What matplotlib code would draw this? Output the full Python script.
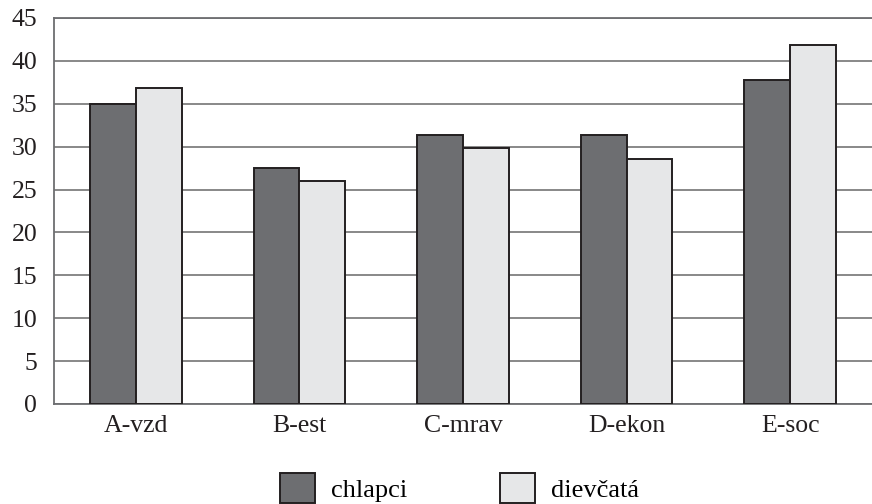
import numpy as np
import matplotlib
matplotlib.use("Agg")
import matplotlib.pyplot as plt

categories = ["A-vzd", "B-est", "C-mrav", "D-ekon", "E-soc"]
chlapci = [35.0, 27.5, 31.4, 31.4, 37.8]
dievcata = [36.8, 26.0, 29.9, 28.6, 41.8]
yticks = [0, 5, 10, 15, 20, 25, 30, 35, 40, 45]

plt.rcParams["font.family"] = ["Liberation Serif", "DejaVu Serif"]

fig = plt.figure(figsize=(8.72, 5.04), dpi=100)
ax = fig.add_axes([54 / 872, 100 / 504, 818 / 872, 386 / 504])

x = np.arange(len(categories))
w = 0.28
ax.bar(x - w / 2, chlapci, w, color="#6d6e71", edgecolor="#231f20",
       linewidth=1.4, label="chlapci", zorder=3)
ax.bar(x + w / 2, dievcata, w, color="#e6e7e8", edgecolor="#231f20",
       linewidth=1.4, label="dievčatá", zorder=3)

ax.set_xlim(-0.5, len(categories) - 0.5)
ax.set_ylim(0, 45)
ax.set_yticks(yticks)
ax.set_xticks(x)
ax.set_xticklabels(categories)
ax.yaxis.grid(True, color="#7f7f7f", linewidth=1.3)
ax.set_axisbelow(True)
ax.tick_params(axis="both", length=0, labelsize=18.5, colors="#231f20")
ax.tick_params(axis="y", pad=12)
ax.tick_params(axis="x", pad=8)

ax.spines["right"].set_visible(False)
for s in ["left", "top", "bottom"]:
    ax.spines[s].set_color("#6d6e71")
    ax.spines[s].set_linewidth(1.3)

fig.legend(loc="center", bbox_to_anchor=(0.527, 1 - 488 / 504), ncol=2,
           frameon=False, fontsize=19, handlelength=1.35, handleheight=1.35,
           handletextpad=0.6, columnspacing=3.5)

fig.savefig("out.png", dpi=100)
